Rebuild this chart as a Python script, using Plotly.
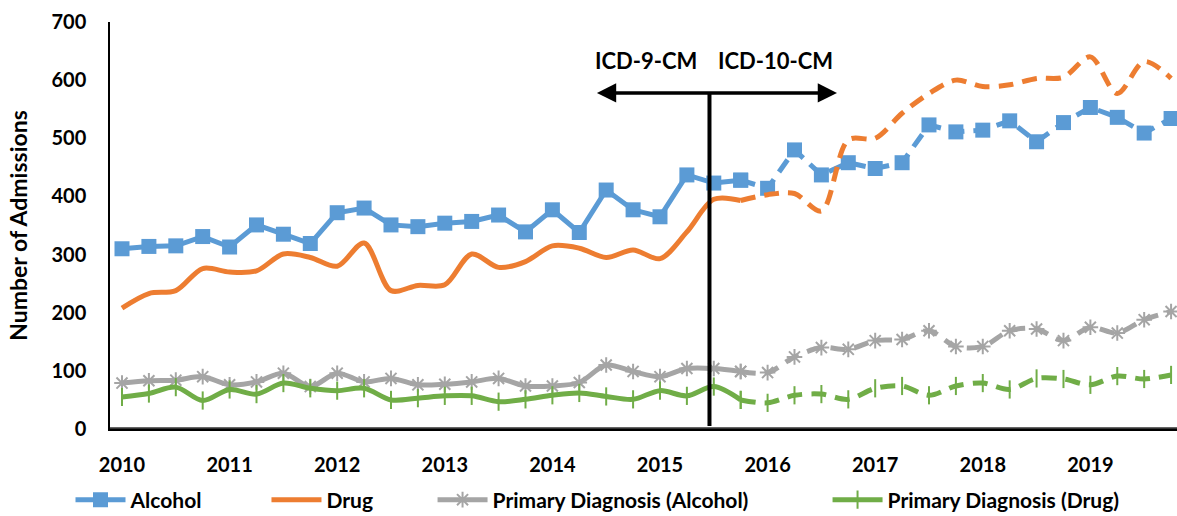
import plotly.graph_objects as go

# Quarterly admissions, 2010 Q1 through 2019 Q4
years = list(range(2010, 2020))
quarter_x = [y + q / 4 for y in years for q in range(4)]

alcohol = [310, 314, 315, 331, 313, 351, 335, 319, 372, 380,
           351, 348, 354, 357, 368, 339, 377, 338, 411, 377,
           365, 437, 423, 428, 414, 480, 437, 458, 448, 458,
           523, 511, 514, 530, 494, 527, 553, 536, 509, 534]
drug = [208, 233, 238, 276, 270, 272, 301, 295, 280, 320,
        238, 247, 248, 301, 278, 288, 315, 311, 295, 308,
        293, 339, 395, 393, 403, 405, 375, 497, 500, 543,
        577, 600, 589, 592, 603, 605, 640, 577, 632, 603]
pd_alcohol = [79, 83, 84, 90, 76, 81, 96, 73, 96, 81,
              87, 76, 77, 81, 87, 74, 74, 80, 110, 99,
              90, 104, 104, 99, 97, 124, 140, 137, 152, 154,
              169, 142, 142, 169, 172, 152, 175, 165, 188, 202]
pd_drug = [55, 61, 72, 49, 68, 60, 79, 70, 66, 70,
           50, 53, 57, 57, 47, 51, 58, 62, 56, 51,
           66, 57, 73, 50, 45, 58, 60, 51, 70, 74,
           58, 74, 79, 68, 87, 86, 76, 91, 86, 93]

# Last quarter coded under ICD-9-CM (index into the quarterly lists)
split = 23
transition_x = 2015.46

BLUE = "#5B9BD5"
ORANGE = "#ED7D31"
GRAY = "#A5A5A5"
GREEN = "#70AD47"
FONT = "Lato"

series = [
    ("Alcohol", alcohol, BLUE, dict(symbol="square", size=15, color=BLUE), "linear", "legend"),
    ("Drug", drug, ORANGE, None, "spline", "legend2"),
    ("Primary Diagnosis (Alcohol)", pd_alcohol, GRAY,
     dict(symbol="asterisk-open", size=13, line=dict(color=GRAY, width=2)), "spline", "legend3"),
    ("Primary Diagnosis (Drug)", pd_drug, GREEN,
     dict(symbol="line-ns-open", size=13, line=dict(color=GREEN, width=2)), "spline", "legend4"),
]

fig = go.Figure()
for name, vals, color, marker, shape, leg in series:
    mode = "lines+markers" if marker else "lines"
    # ICD-9-CM period: solid line
    fig.add_trace(go.Scatter(
        x=quarter_x[:split + 1], y=vals[:split + 1], name=name, mode=mode,
        line=dict(color=color, width=5, shape=shape, smoothing=0.9),
        marker=marker, legend=leg, showlegend=True,
    ))
    # ICD-10-CM period: dashed line
    fig.add_trace(go.Scatter(
        x=quarter_x[split:], y=vals[split:], name=name, mode=mode,
        line=dict(color=color, width=5, shape=shape, smoothing=0.9, dash="15px,9px"),
        marker=marker, legend=leg, showlegend=False,
    ))

# Baseline along the bottom of the plotting area
fig.add_shape(type="line", xref="paper", yref="y", x0=0, x1=1, y0=1, y1=1,
              line=dict(color="#333333", width=2.5), layer="above")

# Coding transition marker
fig.add_shape(type="line", x0=transition_x, x1=transition_x, y0=5, y1=578,
              line=dict(color="black", width=4))
fig.add_annotation(x=2016.645, y=578, ax=2014.40, ay=578, axref="x", ayref="y",
                   xref="x", yref="y", text="", showarrow=True,
                   arrowside="end+start", arrowhead=2, arrowsize=1.1,
                   arrowwidth=3.5, arrowcolor="black")
fig.add_annotation(x=2014.87, y=633, text="<b>ICD-9-CM</b>", showarrow=False,
                   font=dict(family=FONT, size=22, color="black"))
fig.add_annotation(x=2016.07, y=633, text="<b>ICD-10-CM</b>", showarrow=False,
                   font=dict(family=FONT, size=22, color="black"))

legend_font = dict(family=FONT, size=21, color="black", weight="bold")
legend_common = dict(orientation="h", xref="container", yref="container",
                     yanchor="middle", y=0.031, xanchor="left",
                     font=legend_font, bgcolor="rgba(0,0,0,0)", itemwidth=50,
                     tracegroupgap=0)

tick_font = dict(family=FONT, size=20, color="black", weight="bold")
hidden_tick = "rgba(0,0,0,0)"

fig.update_layout(
    width=1177, height=516,
    margin=dict(l=110, r=0, t=22, b=87, autoexpand=False),
    plot_bgcolor="white", paper_bgcolor="white",
    font=dict(family=FONT, color="black"),
    xaxis=dict(
        range=[2009.8885, 2019.805], tickvals=years, ticktext=[str(y) for y in years],
        showgrid=False, zeroline=False, showline=True, linecolor="black", linewidth=2,
        ticks="outside", ticklen=17, tickcolor=hidden_tick, tickfont=tick_font,
        automargin=False,
    ),
    yaxis=dict(
        range=[0, 700], tickvals=list(range(0, 701, 100)),
        showgrid=False, zeroline=False, showline=True, linecolor="black", linewidth=1.5,
        ticks="outside", ticklen=18, tickcolor=hidden_tick, tickfont=tick_font,
        automargin=False,
        title=dict(text="Number of Admissions", standoff=17,
                   font=dict(family=FONT, size=23, color="black", weight="bold")),
    ),
    legend=dict(x=0.0599, **legend_common),
    legend2=dict(x=0.2264, **legend_common),
    legend3=dict(x=0.3675, **legend_common),
    legend4=dict(x=0.7031, **legend_common),
)

fig.write_html("out.html")
